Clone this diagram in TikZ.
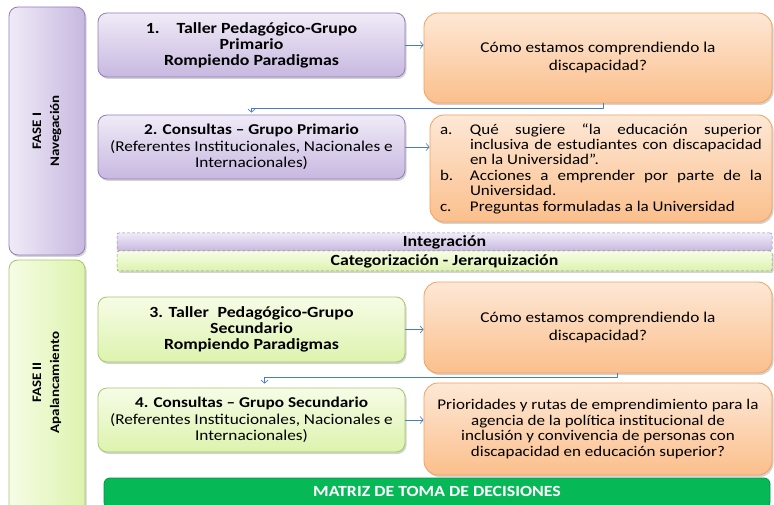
\documentclass[tikz,border=0pt]{standalone}
\usepackage{fontspec}
\setmainfont[FakeStretch=1.15]{Carlito}
\usetikzlibrary{arrows.meta,shadows,positioning}
\definecolor{lilatop}{HTML}{F0EBF7}
\definecolor{lilabot}{HTML}{C7B8E0}
\definecolor{lilaline}{HTML}{957DBB}
\definecolor{verdetop}{HTML}{F6FCE6}
\definecolor{verdebot}{HTML}{DDF3AE}
\definecolor{verdeline}{HTML}{A9C76E}
\definecolor{narantop}{HTML}{FDE8D6}
\definecolor{naranbot}{HTML}{FBBF8C}
\definecolor{naranline}{HTML}{F5A05C}
\definecolor{matriz}{HTML}{07B857}
\definecolor{flecha}{HTML}{4A7EBB}
\begin{document}
\begin{tikzpicture}[x=1pt,y=-1pt,line join=round,
    caja/.style={rectangle,rounded corners=9pt,line width=0.8pt,inner sep=2pt,
      drop shadow={opacity=0.35,shadow xshift=1.5pt,shadow yshift=-2pt}},
    lila/.style={caja,draw=lilaline,top color=lilatop,bottom color=lilabot},
    verde/.style={caja,draw=verdeline,top color=verdetop,bottom color=verdebot},
    naranja/.style={caja,rounded corners=14pt,draw=naranline,top color=narantop,bottom color=naranbot},
    paso/.style={minimum width=307pt,minimum height=64pt,align=center,
      font=\fontsize{15}{16.7}\selectfont},
    negrita/.style={font=\fontsize{15.5}{16}\selectfont\bfseries},
    banda/.style={rectangle,rounded corners=2pt,densely dashed,line width=0.5pt,
      minimum width=655pt,inner sep=0pt,font=\fontsize{15.5}{16}\selectfont\bfseries},
    fasetxt/.style={rotate=90,align=center,font=\fontsize{13}{18}\selectfont\bfseries},
    enlace/.style={draw=flecha,line width=0.7pt,-{Straight Barb[length=3pt,width=7pt]}}]
  \clip (0,0) rectangle (774,505);
  % fases
  \node (f1) [lila,left color=lilatop,right color=lilabot,minimum width=76pt,minimum height=248pt] at (47,131) {};
  \node (f1t) [fasetxt] at (f1) {FASE I\\Navegación};
  \node (f2) [verde,left color=verdetop,right color=verdebot,minimum width=76pt,minimum height=255pt] at (47,387.5) {};
  \node (f2t) [fasetxt] at (47,382.5) {FASE II\\Apalancamiento};
  % fase I
  \node (b1) [lila,paso,negrita] at (251.5,45) {1.\hspace{1.1em}Taller Pedagógico-Grupo\\Primario\\Rompiendo Paradigmas};
  \node (o1) [naranja,minimum width=348pt,minimum height=90pt,align=center,
    font=\fontsize{15}{18}\selectfont] at (598,58) {Cómo estamos comprendiendo la\\discapacidad?};
  \node (b2) [lila,paso] at (251.5,147) {\textbf{2. Consultas -- Grupo Primario}\\(Referentes Institucionales, Nacionales e\\Internacionales)};
  \node (o2) [naranja,minimum width=342pt,minimum height=107pt] at (601,168.5) {%
    \parbox{322pt}{\fontsize{14.8}{15.4}\selectfont
      \hangindent=30pt\hangafter=1\noindent\makebox[30pt][l]{a.}Qué sugiere “la educación superior\linebreak inclusiva de estudiantes con discapacidad\linebreak en la Universidad”.\par
      \hangindent=30pt\hangafter=1\noindent\makebox[30pt][l]{b.}Acciones a emprender por parte de la\linebreak Universidad.\par
      \hangindent=30pt\hangafter=1\noindent\makebox[30pt][l]{c.}Preguntas formuladas a la Universidad\par}};
  \draw[enlace] (b1.east) -- (o1.west |- b1.east);
  \draw[enlace,shorten >=2pt] ([xshift=5pt]o1.south) -- ++(0,5) -| (b2.north);
  \draw[enlace] (b2.east) -- (o2.west |- b2.east);
  % bandas
  \node (int) [banda,draw=lilaline,top color=lilatop,bottom color=lilabot,minimum height=18pt] at (444.5,242) {Integración};
  \node (cat) [banda,draw=verdeline!80!black,top color=verdetop,bottom color=verdebot,minimum height=20pt,
    drop shadow={opacity=0.35,shadow xshift=1.5pt,shadow yshift=-2pt}] at (444.5,261) {Categorización - Jerarquización};
  % fase II
  \node (b3) [verde,paso,negrita,minimum height=65pt] at (251.5,329.5) {3. Taller\hspace{0.3em} Pedagógico-Grupo\\Secundario\\Rompiendo Paradigmas};
  \node (o3) [naranja,minimum width=348pt,minimum height=91pt,align=center,
    font=\fontsize{15}{18}\selectfont] at (598,327.5) {Cómo estamos comprendiendo la\\discapacidad?};
  \node (b4) [verde,paso] at (251.5,420) {\textbf{4. Consultas -- Grupo Secundario}\\(Referentes Institucionales, Nacionales e\\Internacionales)};
  \node (o4) [naranja,minimum width=348pt,minimum height=92pt,align=center,
    font=\fontsize{14.8}{15.7}\selectfont] at (598,429) {Prioridades y rutas de emprendimiento para la\\agencia de la política institucional de\\inclusión y convivencia de personas con\\discapacidad en educación superior?};
  \draw[enlace] (b3.east) -- (o3.west |- b3.east);
  \draw[enlace,shorten >=4pt] ([xshift=19pt]o3.south) -- ++(0,4) -| ([xshift=13pt]b4.north);
  \draw[enlace] (b4.east) -- (o4.west |- b4.east);
  % matriz
  \node (mtz) [rectangle,rounded corners=6pt,draw=matriz!80!black,fill=matriz,line width=0.8pt,
    minimum width=666pt,minimum height=30pt,text=white,
    font=\fontsize{15.5}{16}\selectfont\bfseries,text depth=4pt] at (437,493) {MATRIZ DE TOMA DE DECISIONES};
\end{tikzpicture}
\end{document}
